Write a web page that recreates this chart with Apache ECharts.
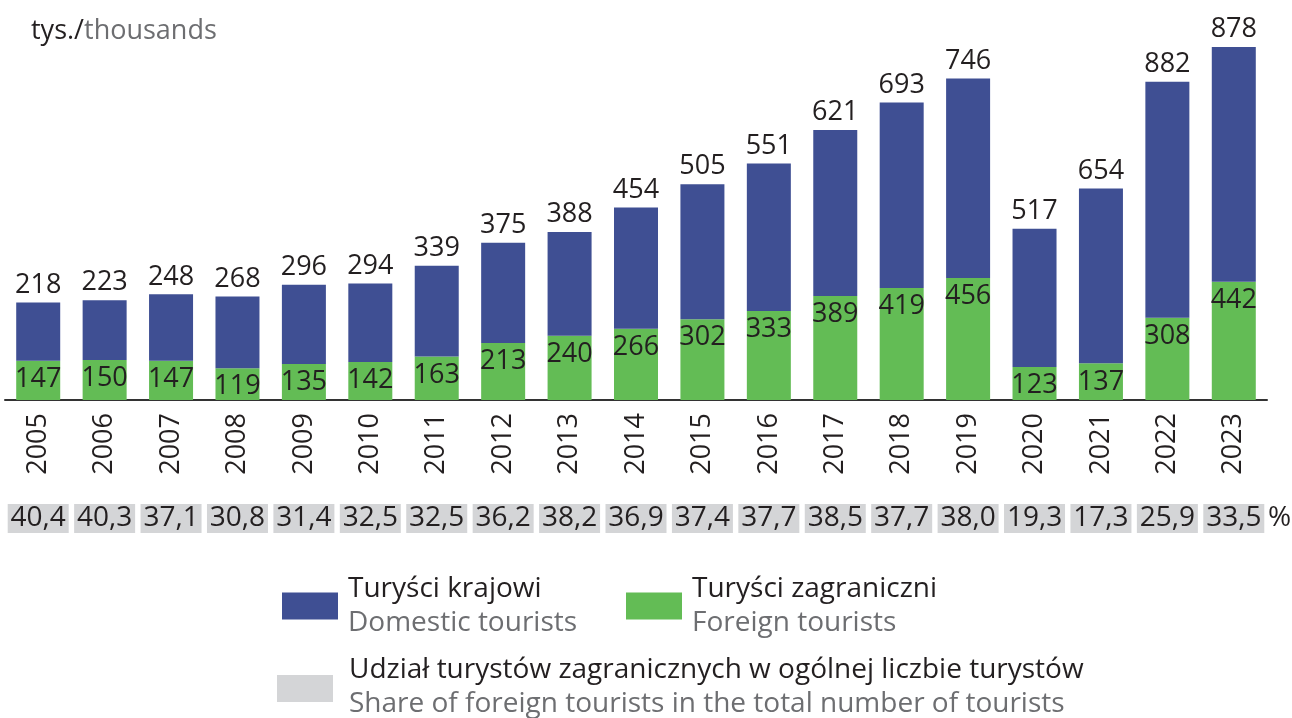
<!DOCTYPE html>
<html lang="pl">
<head>
    <meta charset="UTF-8">
    <title>Turyści krajowi i zagraniczni</title>
    <script src="https://cdn.jsdelivr.net/npm/echarts@6/dist/echarts.min.js"></script>
    <style>
        html, body { margin: 0; padding: 0; background: #fff; }
        #chart { width: 1292px; height: 718px; }
    </style>
</head>
<body>
    <div id="chart"></div>
    <script>
        // dane (tys.)
        let years = ['2005', '2006', '2007', '2008', '2009', '2010', '2011', '2012', '2013', '2014',
                     '2015', '2016', '2017', '2018', '2019', '2020', '2021', '2022', '2023'];
        let domestic = [218, 223, 248, 268, 296, 294, 339, 375, 388, 454, 505, 551, 621, 693, 746, 517, 654, 882, 878];
        let foreign = [147, 150, 147, 119, 135, 142, 163, 213, 240, 266, 302, 333, 389, 419, 456, 123, 137, 308, 442];
        // udział turystów zagranicznych (%)
        let share = [40.4, 40.3, 37.1, 30.8, 31.4, 32.5, 32.5, 36.2, 38.2, 36.9, 37.4, 37.7, 38.5, 37.7, 38.0, 19.3, 17.3, 25.9, 33.5];

        let font = '"Open Sans", "Noto Sans", sans-serif';
        let dark = '#231f20';
        let grey = '#6d6e71';
        let blue = '#3f4f93';
        let green = '#63bc55';
        let boxGrey = '#d4d5d7';

        let shareLabels = share.map(v => v.toFixed(1).replace('.', ','));

        let legendRich = {
            a: { color: dark, fill: dark, fontSize: 28, fontFamily: font, fontWeight: 'normal', lineHeight: 34 },
            b: { color: grey, fill: grey, fontSize: 28, fontFamily: font, fontWeight: 'normal', lineHeight: 34 }
        };

        let chart = echarts.init(document.getElementById('chart'));
        let option = {
            animation: false,
            textStyle: { fontFamily: font },
            title: {
                text: '{a|tys./}{b|thousands}',
                left: 26,
                top: 13,
                textStyle: {
                    fontWeight: 'normal',
                    rich: {
                        a: { color: dark, fontSize: 27, fontFamily: font, fontWeight: 'normal' },
                        b: { color: grey, fontSize: 27, fontFamily: font, fontWeight: 'normal' }
                    }
                }
            },
            grid: { left: 5, right: 25, top: 47, bottom: 318 },
            xAxis: [
                {
                    type: 'category',
                    data: years,
                    axisLine: { lineStyle: { color: '#333', width: 2 } },
                    axisTick: { show: false },
                    axisLabel: {
                        interval: 0,
                        rotate: 90,
                        margin: 13,
                        fontSize: 27,
                        color: dark,
                        fontFamily: font
                    }
                },
                {
                    type: 'category',
                    data: shareLabels,
                    position: 'bottom',
                    offset: 100,
                    axisLine: { show: false },
                    axisTick: { show: false },
                    axisLabel: {
                        interval: 0,
                        margin: 4,
                        fontSize: 28,
                        lineHeight: 27,
                        color: dark,
                        fontFamily: font,
                        backgroundColor: boxGrey,
                        width: 61,
                        align: 'center',
                        padding: [1, 0]
                    }
                }
            ],
            yAxis: { type: 'value', min: 0, max: 1320, show: false },
            legend: [
                {
                    left: 277, top: 570,
                    icon: 'rect',
                    itemWidth: 56, itemHeight: 27, itemGap: 0,
                    selectedMode: false,
                    data: ['Turyści krajowi'],
                    formatter: () => '{a|Turyści krajowi}\n{b|Domestic tourists}',
                    textStyle: { rich: legendRich, padding: [0, 0, 0, 5] }
                },
                {
                    left: 621, top: 570,
                    icon: 'rect',
                    itemWidth: 56, itemHeight: 27, itemGap: 0,
                    selectedMode: false,
                    data: ['Turyści zagraniczni'],
                    formatter: () => '{a|Turyści zagraniczni}\n{b|Foreign tourists}',
                    textStyle: { rich: legendRich, padding: [0, 0, 0, 5] }
                }
            ],
            graphic: [
                {
                    type: 'rect',
                    shape: { x: 277, y: 675, width: 56, height: 27 },
                    style: { fill: boxGrey }
                },
                {
                    type: 'text',
                    x: 349, y: 653,
                    style: {
                        text: '{a|Udział turystów zagranicznych w ogólnej liczbie turystów}\n{b|Share of foreign tourists in the total number of tourists}',
                        rich: legendRich
                    }
                },
                {
                    type: 'text',
                    x: 1268, y: 518,
                    style: {
                        text: '%',
                        fontSize: 28,
                        fontFamily: font,
                        fill: dark,
                        verticalAlign: 'middle'
                    }
                }
            ],
            series: [
                {
                    name: 'Turyści zagraniczni',
                    type: 'bar',
                    stack: 'total',
                    barWidth: 44,
                    data: foreign,
                    itemStyle: { color: green },
                    label: {
                        show: true,
                        position: 'insideTop',
                        distance: 5,
                        fontSize: 27,
                        color: dark,
                        fontFamily: font
                    }
                },
                {
                    name: 'Turyści krajowi',
                    type: 'bar',
                    stack: 'total',
                    barWidth: 44,
                    data: domestic,
                    itemStyle: { color: blue },
                    label: {
                        show: true,
                        position: 'top',
                        distance: 4,
                        fontSize: 27,
                        color: dark,
                        fontFamily: font
                    }
                }
            ]
        };
        chart.setOption(option);
    </script>
</body>
</html>
